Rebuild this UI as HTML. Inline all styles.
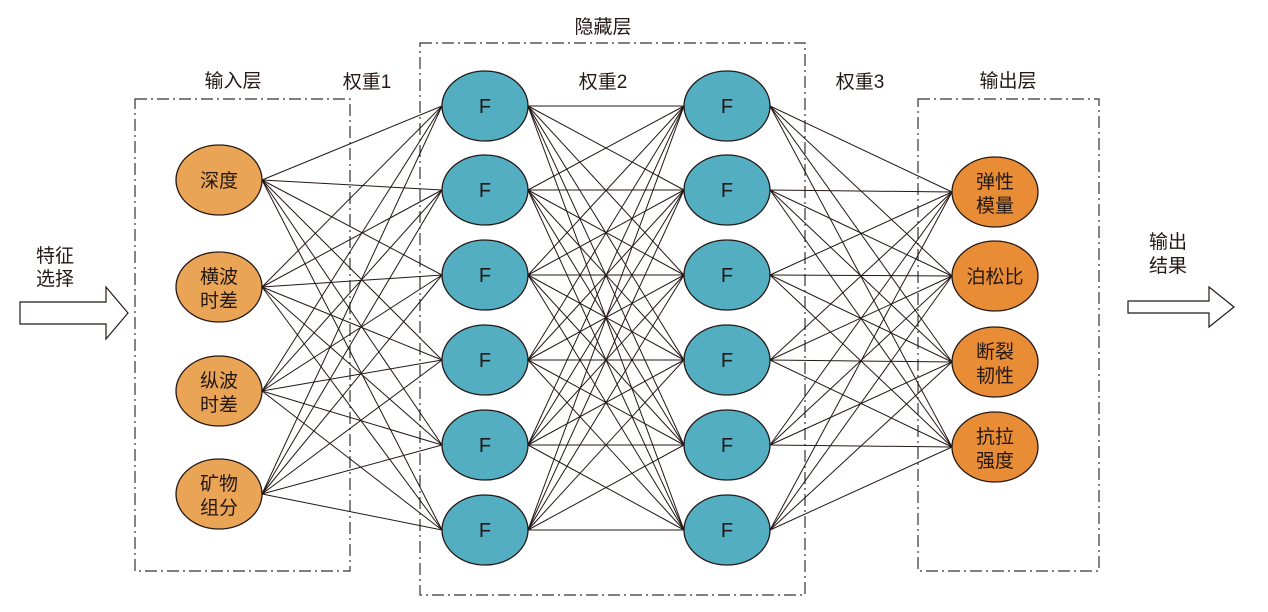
<!DOCTYPE html>
<html><head><meta charset="utf-8"><style>
html,body{margin:0;padding:0;background:#fff;}
svg text{font-family:"Liberation Sans","Noto Sans CJK SC",sans-serif;fill:#231815;}
</style></head><body>
<svg id="s" width="1268" height="607" viewBox="0 0 1268 607" xmlns="http://www.w3.org/2000/svg">
<g fill="none" stroke="#333" stroke-width="1.2" stroke-dasharray="12,4,2,4">
<rect x="135" y="99" width="215" height="472"/>
<rect x="420" y="43" width="385" height="552"/>
<rect x="918" y="99" width="181" height="472"/>
</g>
<g id="lines" stroke="#231815" stroke-width="1"></g>
<g id="nodes" stroke="#231815" stroke-width="1.3"></g>
<g font-size="19" text-anchor="middle">
<text x="233" y="87">输入层</text>
<text x="367" y="88">权重1</text>
<text x="603" y="33">隐藏层</text>
<text x="603" y="88">权重2</text>
<text x="860" y="88">权重3</text>
<text x="1008" y="87">输出层</text>
<text x="55" y="262">特征</text>
<text x="55" y="285">选择</text>
<text x="1168" y="248">输出</text>
<text x="1168" y="272">结果</text>
</g>
<g fill="#fff" stroke="#231815" stroke-width="1.2">
<polygon points="20,302 106,302 106,287 128,313 106,339 106,324 20,324" transform="translate(0,0)"/>
<polygon points="1128,301 1209,301 1209,287 1234,307 1209,327 1209,313 1128,313"/>
</g>
</svg>
<script>
var NS="http://www.w3.org/2000/svg";
var inY=[180,287,391,494], hY=[106,190,275,360,445,530], oY=[192,276,362,447];
var L=document.getElementById("lines"), N=document.getElementById("nodes");
function line(x1,y1,x2,y2){var l=document.createElementNS(NS,"line");l.setAttribute("x1",x1);l.setAttribute("y1",y1);l.setAttribute("x2",x2);l.setAttribute("y2",y2);L.appendChild(l);}
inY.forEach(function(a){hY.forEach(function(b){line(262,a,442,b);});});
hY.forEach(function(a){hY.forEach(function(b){line(528,a,684,b);});});
hY.forEach(function(a){oY.forEach(function(b){line(770,a,952,b);});});
function node(cx,cy,fill,labels){var e=document.createElementNS(NS,"ellipse");e.setAttribute("cx",cx);e.setAttribute("cy",cy);e.setAttribute("rx",43);e.setAttribute("ry",35);e.setAttribute("fill",fill);N.appendChild(e);
 labels.forEach(function(t,i){var tx=document.createElementNS(NS,"text");tx.setAttribute("x",cx);tx.setAttribute("y",cy+7+(labels.length==2?(i==0?-11:13):0));tx.setAttribute("text-anchor","middle");tx.setAttribute("font-size",labels[0]=="F"?"20":"19");tx.setAttribute("stroke","none");tx.textContent=t;N.appendChild(tx);});}
var inL=[["深度"],["横波","时差"],["纵波","时差"],["矿物","组分"]];
inY.forEach(function(y,i){node(219,y,"#E9A455",inL[i]);});
hY.forEach(function(y){node(485,y,"#52AEC0",["F"]);node(727,y,"#52AEC0",["F"]);});
var oL=[["弹性","模量"],["泊松比"],["断裂","韧性"],["抗拉","强度"]];
oY.forEach(function(y,i){node(995,y,"#E88C35",oL[i]);});
</script>
</body></html>
